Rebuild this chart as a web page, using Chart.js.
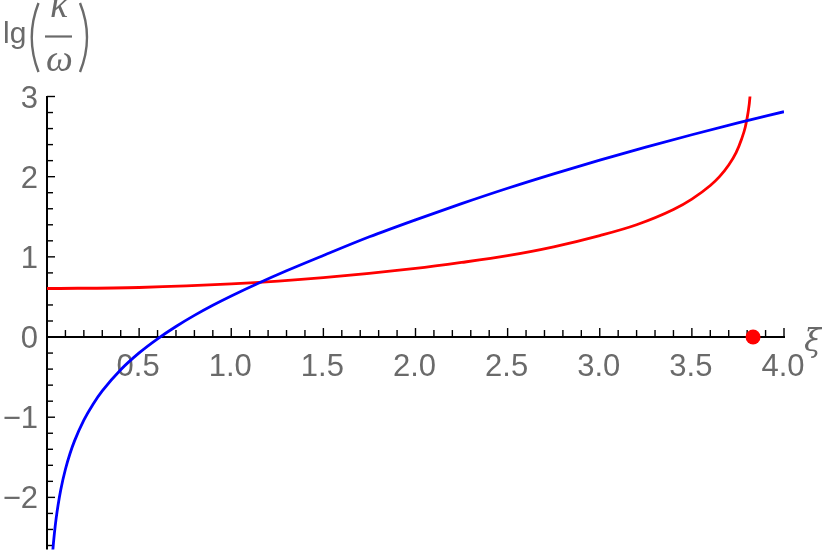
<!DOCTYPE html>
<html>
<head>
<meta charset="utf-8">
<script src="https://cdn.jsdelivr.net/npm/chart.js@4.4.0/dist/chart.umd.min.js"></script>
<style>
  html, body { margin: 0; padding: 0; background: #fff; }
  #wrap { width: 822px; height: 557px; }
</style>
</head>
<body>
<div id="wrap"><canvas id="c" width="822" height="557"></canvas></div>
<script>
// ---- data ----
const blueXi = [0.028, 0.035, 0.04, 0.05, 0.06, 0.075, 0.1, 0.125, 0.15, 0.2, 0.25, 0.3, 0.4, 0.5, 0.6, 0.7, 0.8, 0.9, 1.0, 1.15, 1.3, 1.5, 1.75, 2.0, 2.25, 2.5, 2.75, 3.0, 3.25, 3.5, 3.75, 4.0];
const blueLg = [-2.76, -2.567, -2.451, -2.256, -2.097, -1.901, -1.649, -1.452, -1.292, -1.036, -0.837, -0.672, -0.408, -0.198, -0.022, 0.132, 0.270, 0.396, 0.512, 0.674, 0.826, 1.017, 1.25, 1.462, 1.664, 1.856, 2.036, 2.206, 2.368, 2.523, 2.67, 2.81];

const redXi = [0, 0.5, 1.0, 1.5, 2.0, 2.25, 2.5, 2.75, 3.0, 3.2, 3.4, 3.5, 3.6, 3.65, 3.7, 3.74, 3.77, 3.79, 3.805, 3.815, 3.825];
const redLg = [0.605, 0.618, 0.662, 0.740, 0.855, 0.93, 1.015, 1.125, 1.265, 1.40, 1.59, 1.72, 1.89, 2.00, 2.145, 2.30, 2.47, 2.62, 2.80, 2.99, 3.40];

const dotXi = [3.832];
const dotLg = [0];

const xTickValues = [0.5, 1.0, 1.5, 2.0, 2.5, 3.0, 3.5, 4.0];
const xTickLabels = ['0.5', '1.0', '1.5', '2.0', '2.5', '3.0', '3.5', '4.0'];
const yTickValues = [-2, -1, 0, 1, 2, 3];
const yTickLabels = ['\u22122', '\u22121', '0', '1', '2', '3'];
const xRange = [0, 4];
const yRange = [-2.65, 3];

const toPts = (xs, ys) => xs.map((v, i) => ({ x: v, y: ys[i] }));

const GRAY = '#6a6a6a';

const axesPlugin = {
  id: 'mmaAxes',
  beforeDatasetsDraw(chart) {
    const { ctx, chartArea: a } = chart;
    const sx = chart.scales.x, sy = chart.scales.y;
    const x0 = sx.getPixelForValue(0), y0 = sy.getPixelForValue(0);
    ctx.save();
    ctx.strokeStyle = '#000';
    ctx.lineCap = 'butt';
    // axis lines
    ctx.lineWidth = 2;
    ctx.beginPath();
    ctx.moveTo(x0, sy.getPixelForValue(yRange[1]) - 0.5);
    ctx.lineTo(x0, a.bottom);
    ctx.stroke();
    ctx.beginPath();
    ctx.moveTo(x0 - 1, y0);
    ctx.lineTo(sx.getPixelForValue(xRange[1]) + 1, y0);
    ctx.stroke();
    // x ticks (pointing up)
    ctx.lineWidth = 1.4;
    for (let k = 1; k <= 40; k++) {
      const v = k / 10;
      const px = sx.getPixelForValue(v);
      const len = (k % 5 === 0) ? 9 : 7;
      ctx.beginPath();
      ctx.moveTo(px, y0);
      ctx.lineTo(px, y0 - len);
      ctx.stroke();
    }
    // y ticks (pointing right)
    for (let k = -13; k <= 15; k++) {
      const v = k / 5;
      const py = sy.getPixelForValue(v);
      const len = (k % 5 === 0) ? 8 : 6;
      ctx.beginPath();
      ctx.moveTo(x0, py);
      ctx.lineTo(x0 + len, py);
      ctx.stroke();
    }
    // tick labels
    ctx.fillStyle = GRAY;
    ctx.font = '31px "Liberation Sans", Arial, sans-serif';
    ctx.textAlign = 'center';
    ctx.textBaseline = 'alphabetic';
    xTickValues.forEach((v, i) => {
      ctx.fillText(xTickLabels[i], sx.getPixelForValue(v) - 1, y0 + 39);
    });
    ctx.textAlign = 'right';
    yTickValues.forEach((v, i) => {
      ctx.fillText(yTickLabels[i], x0 - 9, sy.getPixelForValue(v) + 11);
    });
    // x axis label
    ctx.textAlign = 'left';
    ctx.font = 'italic 31px "DejaVu Serif", "Liberation Serif", serif';
    ctx.fillText('\u03BE', 804, 351);
    // y axis label: lg( kappa / omega )
    ctx.font = '30px "Liberation Sans", Arial, sans-serif';
    ctx.fillText('lg', 3, 43);
    ctx.strokeStyle = GRAY;
    ctx.lineWidth = 2.4;
    ctx.beginPath();
    ctx.moveTo(38.5, 3);
    ctx.quadraticCurveTo(25, 37.5, 38.5, 72);
    ctx.stroke();
    ctx.beginPath();
    ctx.moveTo(80, 3);
    ctx.quadraticCurveTo(94, 37.5, 80, 72);
    ctx.stroke();
    ctx.lineWidth = 2.2;
    ctx.beginPath();
    ctx.moveTo(45, 36.5);
    ctx.lineTo(72, 36.5);
    ctx.stroke();
    ctx.textAlign = 'center';
    ctx.font = 'italic 38px "Liberation Serif", "DejaVu Serif", serif';
    ctx.fillText('\u03BA', 59, 17);
    ctx.fillText('\u03C9', 59.5, 71);
    ctx.restore();
  }
};

new Chart(document.getElementById('c'), {
  type: 'scatter',
  data: {
    datasets: [
      {
        label: 'blue',
        data: toPts(blueXi, blueLg),
        showLine: true,
        borderColor: '#0000ff',
        borderWidth: 2.8,
        pointRadius: 0,
        cubicInterpolationMode: 'monotone',
        clip: 0
      },
      {
        label: 'red',
        data: toPts(redXi, redLg),
        showLine: true,
        borderColor: '#ff0000',
        borderWidth: 2.8,
        pointRadius: 0,
        cubicInterpolationMode: 'monotone',
        clip: 0
      },
      {
        label: 'dot',
        data: toPts(dotXi, dotLg),
        showLine: false,
        pointRadius: 7.5,
        pointBorderWidth: 0,
        backgroundColor: '#ff0000',
        borderColor: '#ff0000',
        clip: false
      }
    ]
  },
  options: {
    responsive: false,
    animation: false,
    devicePixelRatio: 1,
    layout: { padding: { left: 47, right: 38, top: 96.5, bottom: 0 } },
    plugins: { legend: { display: false }, tooltip: { enabled: false } },
    scales: {
      x: { type: 'linear', min: xRange[0], max: xRange[1], display: false },
      y: { type: 'linear', min: yRange[0], max: yRange[1], display: false }
    }
  },
  plugins: [axesPlugin]
});
</script>
</body>
</html>
